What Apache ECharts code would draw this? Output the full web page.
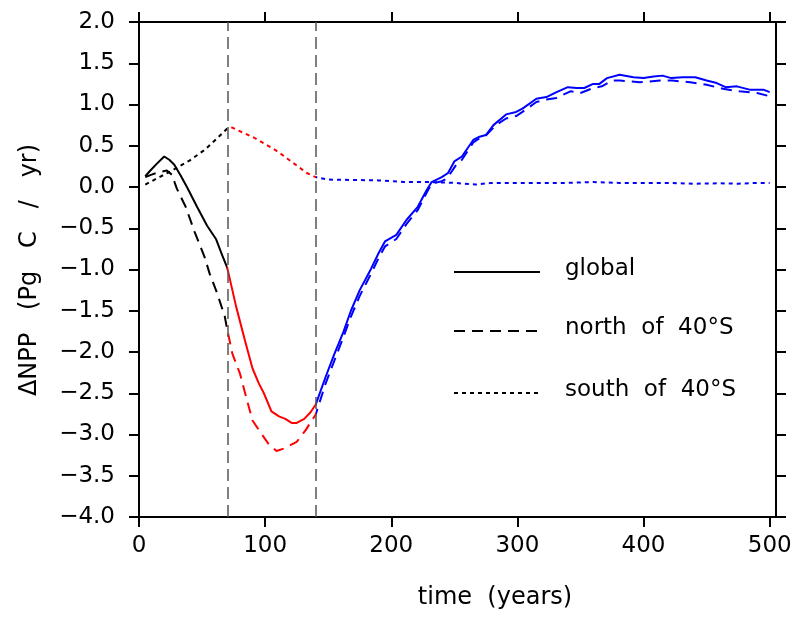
<!DOCTYPE html>
<html>
<head>
<meta charset="utf-8">
<script src="https://cdn.jsdelivr.net/npm/echarts@6/dist/echarts.min.js"></script>
<style>
  html, body { margin: 0; padding: 0; background: #fff; }
  #chart { width: 804px; height: 617px; }
</style>
</head>
<body>
<div id="chart"></div>
<script>
// Change in net primary production, by region, over 500 years
const globalYears = [5, 9, 14, 20, 24, 28, 33, 38, 46, 54, 61, 66, 70, 77, 84, 90, 95, 99, 105, 111, 116, 121, 125, 131, 136, 140, 148, 155, 162, 168, 175, 184, 190, 195, 204, 212, 221, 228, 232, 240, 245, 250, 256, 265, 270, 275, 281, 291, 299, 304, 315, 323, 331, 340, 347, 353, 360, 365, 371, 381, 392, 400, 408, 415, 422, 431, 441, 450, 458, 465, 474, 484, 495, 500];
const globalValues = [0.13, 0.20, 0.28, 0.37, 0.33, 0.27, 0.14, 0.00, -0.24, -0.47, -0.63, -0.83, -0.98, -1.45, -1.86, -2.20, -2.38, -2.50, -2.72, -2.78, -2.81, -2.86, -2.86, -2.81, -2.73, -2.64, -2.30, -2.02, -1.76, -1.50, -1.25, -0.99, -0.80, -0.66, -0.58, -0.40, -0.24, -0.04, 0.06, 0.12, 0.17, 0.31, 0.37, 0.57, 0.61, 0.63, 0.75, 0.88, 0.91, 0.95, 1.07, 1.09, 1.15, 1.21, 1.20, 1.20, 1.25, 1.25, 1.32, 1.36, 1.33, 1.32, 1.34, 1.35, 1.32, 1.33, 1.33, 1.29, 1.26, 1.21, 1.22, 1.18, 1.18, 1.15];

const northYears = [5, 10, 16, 22, 26, 30, 37, 44, 52, 56, 62, 68, 70, 74, 80, 85, 90, 97, 103, 109, 115, 120, 125, 132, 140, 148, 155, 162, 168, 175, 184, 190, 195, 204, 212, 221, 228, 232, 240, 244, 252, 256, 265, 270, 274, 283, 291, 299, 304, 315, 323, 331, 342, 350, 360, 367, 375, 381, 397, 413, 423, 437, 450, 463, 476, 490, 500];
const northValues = [0.12, 0.15, 0.18, 0.20, 0.15, -0.02, -0.24, -0.54, -0.85, -1.05, -1.29, -1.57, -1.73, -2.02, -2.26, -2.55, -2.83, -2.99, -3.12, -3.20, -3.17, -3.13, -3.09, -2.95, -2.76, -2.38, -2.10, -1.82, -1.57, -1.32, -1.05, -0.86, -0.72, -0.63, -0.45, -0.28, -0.07, 0.04, 0.07, 0.10, 0.28, 0.33, 0.54, 0.59, 0.61, 0.75, 0.83, 0.86, 0.91, 1.03, 1.06, 1.08, 1.16, 1.14, 1.20, 1.22, 1.29, 1.29, 1.27, 1.29, 1.29, 1.27, 1.24, 1.19, 1.16, 1.14, 1.10];

const southYears = [5, 15, 25, 40, 52, 62, 70, 74, 78, 91, 100, 110, 118, 126, 133, 140, 150, 170, 190, 210, 230, 250, 267, 280, 300, 320, 340, 360, 380, 400, 420, 440, 460, 475, 490, 500];
const southValues = [0.03, 0.11, 0.19, 0.32, 0.45, 0.59, 0.71, 0.72, 0.69, 0.60, 0.52, 0.43, 0.34, 0.25, 0.17, 0.12, 0.09, 0.085, 0.08, 0.06, 0.06, 0.05, 0.03, 0.05, 0.05, 0.05, 0.05, 0.06, 0.05, 0.05, 0.05, 0.04, 0.045, 0.04, 0.05, 0.05];

// Period boundaries (years) and axis ticks
const periodBounds = [70, 140];
const xTicks = [0, 100, 200, 300, 400, 500];
const seriesNames = ['global', 'north  of  40°S', 'south  of  40°S'];

const FONT = 'DejaVu Sans';
const FS = 23;
const TITLE_FS = 24;

function zip(xs, ys) { return xs.map((x, i) => [x, ys[i]]); }
function fmtY(v) { return v.toFixed(1).replace('-', '\u2212'); }

const chart = echarts.init(document.getElementById('chart'), null, { renderer: 'canvas' });

const axisLine = { show: true, onZero: false, lineStyle: { color: '#000', width: 2 } };
const tickStyle = { show: true, inside: false, length: 10, lineStyle: { color: '#000', width: 2 } };

const dashes = { solid: 'solid', dashed: [11, 7], dotted: [4, 4] };

const option = {
  backgroundColor: '#fff',
  animation: false,
  grid: { left: 139, top: 22, width: 637, height: 495, containLabel: false },
  xAxis: [
    {
      type: 'value', min: 0, max: 505, position: 'bottom',
      axisLine: axisLine,
      axisTick: Object.assign({ customValues: xTicks }, tickStyle),
      axisLabel: { customValues: xTicks, margin: 18, color: '#000', fontFamily: FONT, fontSize: FS },
      splitLine: { show: false }
    },
    {
      type: 'value', min: 0, max: 505, position: 'top',
      axisLine: axisLine,
      axisTick: Object.assign({ customValues: xTicks }, tickStyle),
      axisLabel: { show: false },
      splitLine: { show: false }
    }
  ],
  yAxis: [
    {
      type: 'value', min: -4, max: 2, interval: 0.5, position: 'left',
      axisLine: axisLine, axisTick: tickStyle,
      axisLabel: { margin: 24, color: '#000', fontFamily: FONT, fontSize: FS, formatter: fmtY },
      splitLine: { show: false }
    },
    {
      type: 'value', min: -4, max: 2, interval: 0.5, position: 'right',
      axisLine: axisLine, axisTick: tickStyle,
      axisLabel: { show: false },
      splitLine: { show: false }
    }
  ],
  visualMap: {
    type: 'piecewise', show: false, dimension: 0, seriesIndex: [0, 1, 2],
    pieces: [
      { lt: periodBounds[0], color: '#000000' },
      { gte: periodBounds[0], lt: periodBounds[1], color: '#ff0000' },
      { gte: periodBounds[1], color: '#0000ff' }
    ]
  },
  series: [
    {
      name: seriesNames[0], type: 'line', data: zip(globalYears, globalValues),
      symbol: 'none', lineStyle: { width: 2, type: dashes.solid },
      markLine: {
        silent: true, symbol: 'none', label: { show: false },
        lineStyle: { color: '#555', width: 1.5, type: [12, 6] },
        data: periodBounds.map(v => ({ xAxis: v }))
      }
    },
    {
      name: seriesNames[1], type: 'line', data: zip(northYears, northValues),
      symbol: 'none', lineStyle: { width: 2, type: dashes.dashed }
    },
    {
      name: seriesNames[2], type: 'line', data: zip(southYears, southValues),
      symbol: 'none', lineStyle: { width: 2, type: dashes.dotted }
    }
  ],
  graphic: [
    // axis titles
    {
      type: 'text', x: 495, y: 598,
      style: {
        text: 'time  (years)', align: 'center', verticalAlign: 'middle',
        font: TITLE_FS + 'px "' + FONT + '"', fill: '#000'
      }
    },
    {
      type: 'text', x: 30, y: 270, rotation: Math.PI / 2,
      style: {
        text: '\u0394NPP   (Pg   C   /   yr)', align: 'center', verticalAlign: 'middle',
        font: TITLE_FS + 'px "' + FONT + '"', fill: '#000'
      }
    },
    // key
    { type: 'line', shape: { x1: 454, y1: 272, x2: 540, y2: 272 }, style: { stroke: '#000', lineWidth: 2 } },
    { type: 'line', shape: { x1: 454, y1: 331, x2: 540, y2: 331 }, style: { stroke: '#000', lineWidth: 2, lineDash: dashes.dashed } },
    { type: 'line', shape: { x1: 454, y1: 393, x2: 540, y2: 393 }, style: { stroke: '#000', lineWidth: 2, lineDash: dashes.dotted } },
    { type: 'text', x: 565, y: 269, style: { text: seriesNames[0], verticalAlign: 'middle', font: FS + 'px "' + FONT + '"', fill: '#000' } },
    { type: 'text', x: 565, y: 328, style: { text: seriesNames[1], verticalAlign: 'middle', font: FS + 'px "' + FONT + '"', fill: '#000' } },
    { type: 'text', x: 565, y: 390, style: { text: seriesNames[2], verticalAlign: 'middle', font: FS + 'px "' + FONT + '"', fill: '#000' } }
  ]
};

chart.setOption(option);
</script>
</body>
</html>
